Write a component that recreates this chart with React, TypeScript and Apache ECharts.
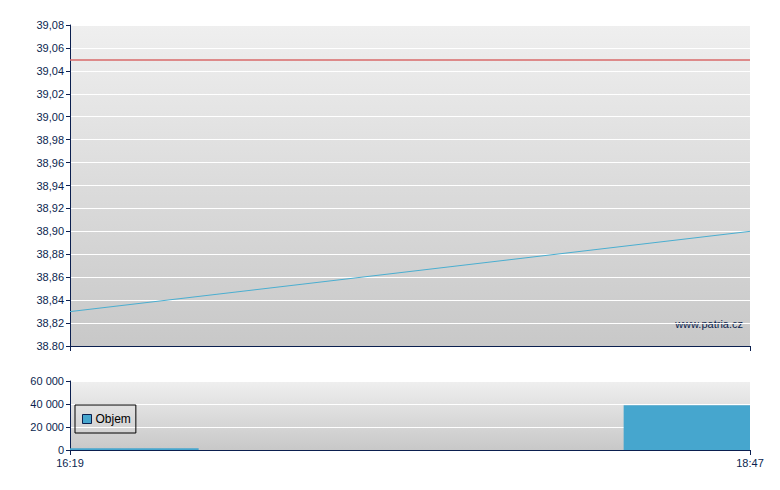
import React, { useEffect, useRef } from "react";
import * as echarts from "echarts";

const timeLabels = ["16:19", "18:47"];
const spanMinutes = 148;
const priceTimes = [0, 148];
const priceValues = [38.83, 38.9];
const refPrice = 39.05;
const volStart = [0, 120.5];
const volEnd = [28, 148];
const volValues = [1500, 39000];

const navy = "#0b1f4f";
const font = "Liberation Sans";

export default function App() {
  const ref = useRef<HTMLDivElement>(null);
  useEffect(() => {
    const chart = echarts.init(ref.current!, null, { renderer: "svg" });
    const grad = () =>
      new echarts.graphic.LinearGradient(0, 0, 0, 1, [
        { offset: 0, color: "#efefef" },
        { offset: 1, color: "#c8c8c8" },
      ]);
    const xBase = {
      type: "value" as const,
      min: 0,
      max: spanMinutes,
      interval: spanMinutes,
      axisLine: { show: true, lineStyle: { color: navy, width: 1 } },
      axisTick: { show: true, length: 5, lineStyle: { color: navy } },
      splitLine: { show: false },
    };
    chart.setOption({
      animation: false,
      grid: [
        { left: 70, right: 30, top: 25, height: 321, show: true, backgroundColor: grad(), borderWidth: 0 },
        { left: 70, right: 30, top: 381, height: 69, show: true, backgroundColor: grad(), borderWidth: 0 },
      ],
      xAxis: [
        { ...xBase, gridIndex: 0, axisLabel: { show: false } },
        {
          ...xBase,
          gridIndex: 1,
          axisLabel: {
            show: true,
            color: navy,
            fontFamily: font,
            fontSize: 11,
            margin: 7,
            formatter: (v: number) => (v === 0 ? timeLabels[0] : timeLabels[1]),
          },
        },
      ],
      yAxis: [
        {
          type: "value",
          gridIndex: 0,
          min: 38.8,
          max: 39.08,
          interval: 0.02,
          axisLine: { show: true, lineStyle: { color: navy } },
          axisTick: { show: true, length: 4, lineStyle: { color: navy } },
          splitLine: { show: true, lineStyle: { color: "#ffffff", width: 1 } },
          axisLabel: {
            color: navy,
            fontFamily: font,
            fontSize: 11,
            margin: 6,
            formatter: (v: number) => {
              const s = v.toFixed(2);
              return Math.abs(v - 38.8) < 1e-6 ? s : s.replace(".", ",");
            },
          },
        },
        {
          type: "value",
          gridIndex: 1,
          min: 0,
          max: 60000,
          interval: 20000,
          axisLine: { show: true, lineStyle: { color: navy } },
          axisTick: { show: true, length: 4, lineStyle: { color: navy } },
          splitLine: { show: true, lineStyle: { color: "#ffffff", width: 1 } },
          axisLabel: {
            color: navy,
            fontFamily: font,
            fontSize: 11,
            margin: 6,
            formatter: (v: number) => String(Math.round(v)).replace(/\B(?=(\d{3})+(?!\d))/g, " "),
          },
        },
      ],
      legend: {
        show: true,
        left: 75,
        top: 405,
        orient: "vertical",
        borderColor: "#000",
        borderWidth: 1,
        padding: [8, 5, 8, 7],
        itemWidth: 9,
        itemHeight: 9,
        itemGap: 4,
        data: [{ name: "Objem", icon: "rect", itemStyle: { color: "#46a6ce", borderColor: "#0b1f4f", borderWidth: 1 } }],
        textStyle: { color: "#000", fontFamily: font, fontSize: 12, padding: [0, 0, 0, -1] },
      },
      graphic: [
        {
          type: "text",
          right: 37,
          top: 318,
          style: { text: "www.patria.cz", fill: navy, font: `11px ${font}` },
        },
      ],
      series: [
        {
          type: "line",
          xAxisIndex: 0,
          yAxisIndex: 0,
          data: priceTimes.map((t, i) => [t, priceValues[i]]),
          symbol: "none",
          lineStyle: { color: "#4aaed0", width: 1 },
          markLine: {
            silent: true,
            symbol: "none",
            label: { show: false },
            lineStyle: { color: "#d86a6a", width: 1.5, type: "solid" },
            data: [{ yAxis: refPrice }],
          },
        },
        {
          type: "custom",
          name: "Objem",
          xAxisIndex: 1,
          yAxisIndex: 1,
          data: volValues.map((v, i) => [volStart[i], volEnd[i], v]),
          renderItem: (_p: any, api: any) => {
            const a = api.coord([api.value(0), api.value(2)]);
            const b = api.coord([api.value(1), 0]);
            return {
              type: "rect",
              shape: { x: a[0], y: a[1], width: b[0] - a[0], height: b[1] - a[1] },
              style: { fill: "#46a6ce" },
            };
          },
          itemStyle: { color: "#46a6ce" },
          encode: { x: [0, 1], y: 2 },
        },
      ],
    });
    return () => chart.dispose();
  }, []);
  return <div ref={ref} style={{ width: 780, height: 490, position: "absolute", left: 0, top: 0 }} />;
}
